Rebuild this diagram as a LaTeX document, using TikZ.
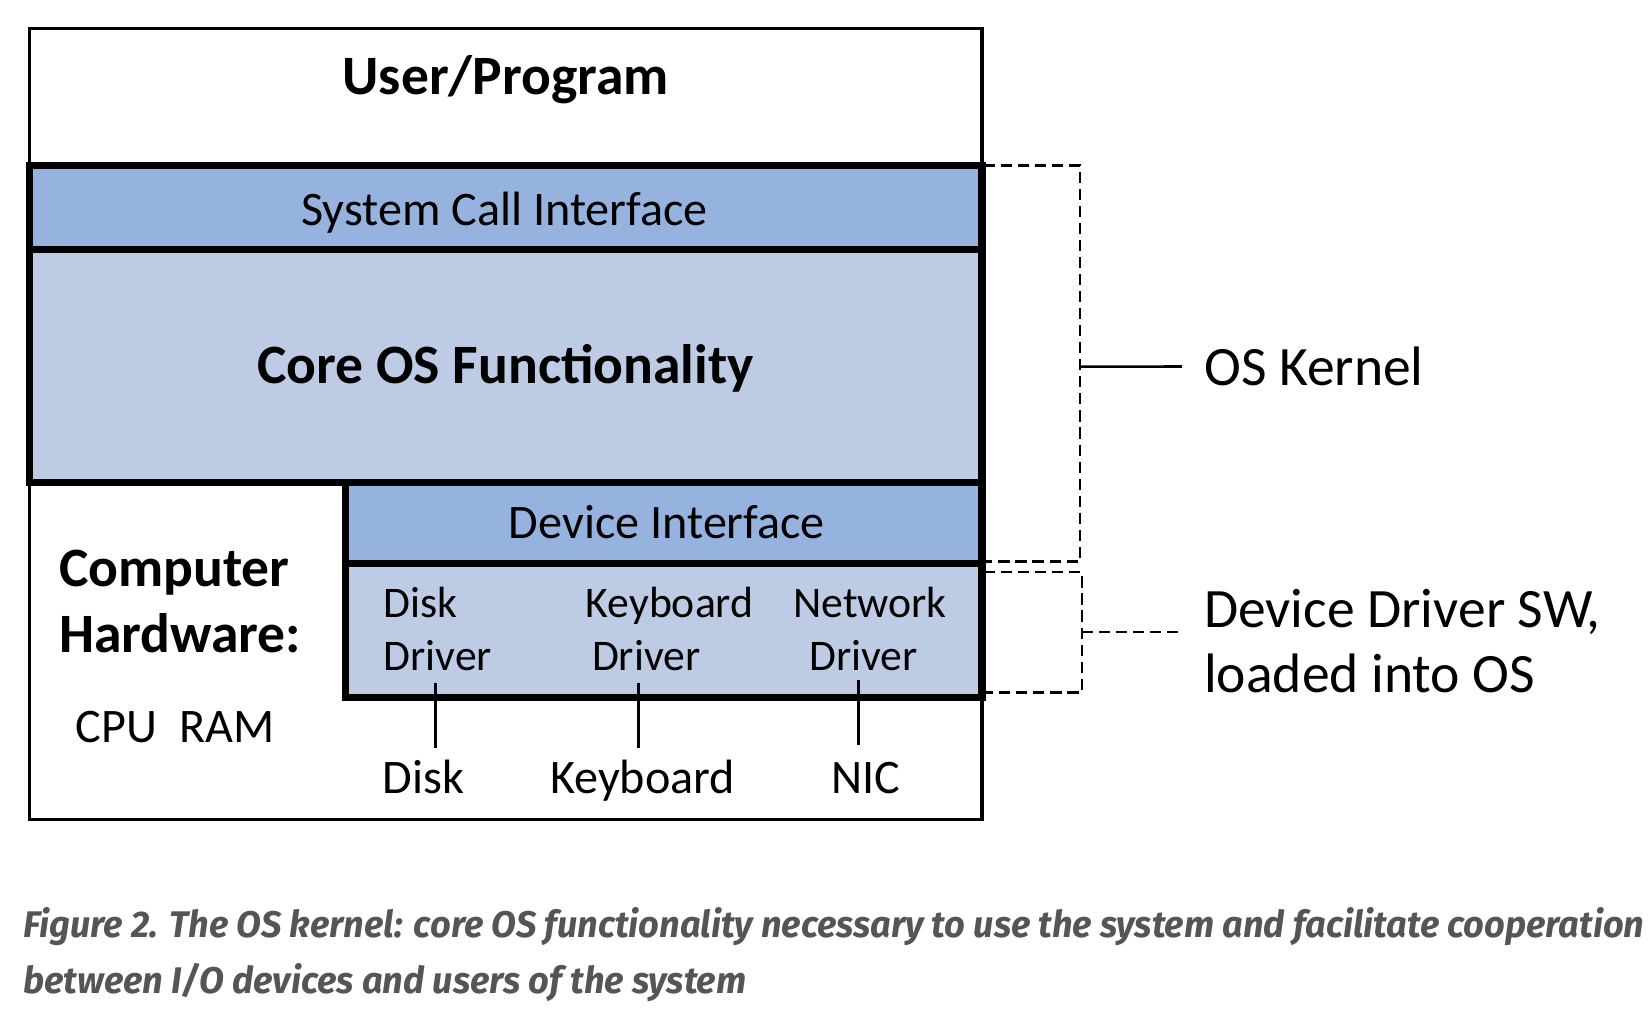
\documentclass[tikz,border=0pt]{standalone}
\usepackage{fontspec}
\usepackage{graphicx}
\setmainfont{Carlito}
\newfontfamily\capfont{Fira Sans}
\definecolor{dblue}{RGB}{149,179,222}
\definecolor{lblue}{RGB}{189,204,228}
\definecolor{capgray}{RGB}{85,85,85}
\begin{document}
\begin{tikzpicture}[x=0.01cm,y=-0.01cm,
  thk/.style={line width=2pt},
  thn/.style={line width=0.9pt},
  dsh/.style={line width=0.7pt,dash pattern=on 3pt off 1.6pt},
  big/.style={font=\fontsize{13}{16}\selectfont},
  bigb/.style={font=\fontsize{15}{18}\selectfont\bfseries},
  mid/.style={font=\fontsize{13}{16}\selectfont},
  sml/.style={font=\fontsize{11.8}{14}\selectfont},
  side/.style={font=\fontsize{15}{18}\selectfont},
  lab/.style={inner sep=0pt,outer sep=0pt}]
\useasboundingbox (0,0) rectangle (1568,959);
% fills
\fill[white] (28,27) rectangle (932,778);
\fill[dblue] (28,157) rectangle (932,237);
\fill[lblue] (28,237) rectangle (932,458);
\fill[dblue] (328,458) rectangle (932,535);
\fill[lblue] (328,535) rectangle (932,662);
% thin outer lines
\draw[thn] (28,157) -- (28,27) -- (932,27) -- (932,157);
\draw[thn] (28,458) -- (28,778) -- (932,778) -- (932,662);
% thick kernel lines
\draw[thk] (28,157) rectangle (932,458);
\draw[thk] (28,237) -- (932,237);
\draw[thk] (328,458) -- (328,662) -- (932,662) -- (932,458);
\draw[thk] (328,535) -- (932,535);
% texts
\node[lab,bigb,anchor=base] (user) at (480,90) {User/Program};
\node[lab,mid,anchor=base] (sci) at (479,214) {System Call Interface};
\node[lab,bigb,anchor=base] (core) at (480,364) {Core OS Functionality};
\node[lab,mid,anchor=base] (dev) at (633,511) {Device Interface};
\node[lab,sml,anchor=base west] (d1a) at (364,586) {Disk};
\node[lab,sml,anchor=base west] (d1b) at (364,636) {Driver};
\node[lab,sml,anchor=base west] (d2a) at (556,586) {Keyboard};
\node[lab,sml,anchor=base west] (d2b) at (562,636) {Driver};
\node[lab,sml,anchor=base west] (d3a) at (753,586) {Network};
\node[lab,sml,anchor=base west] (d3b) at (768,636) {Driver};
\node[lab,big,anchor=base] (hdisk) at (402,753) {Disk};
\node[lab,big,anchor=base] (hkey) at (610,753) {Keyboard};
\node[lab,big,anchor=base] (hnic) at (822,753) {NIC};
\node[lab,bigb,anchor=base west] (comp) at (56,557) {Computer};
\node[lab,bigb,anchor=base west] (hw) at (56,619) {Hardware:};
\node[lab,big,anchor=base west] (cpu) at (72,705) {CPU\ \ RAM};
% driver-to-device connectors
\coordinate (c1a) at (413,648); \coordinate (c1b) at (413,710);
\coordinate (c2a) at (606,648); \coordinate (c2b) at (606,710);
\coordinate (c3a) at (815,645); \coordinate (c3b) at (815,707);
\draw[line width=0.8pt] (c1a) -- (c1b);
\draw[line width=0.8pt] (c2a) -- (c2b);
\draw[line width=0.8pt] (c3a) -- (c3b);
% brackets
\draw[dsh] (934,157) -- (1025,157) -- (1025,533) -- (934,533);
\draw[dsh] (934,543) -- (1027,543) -- (1027,657) -- (934,657);
\node[lab,side,anchor=base west] (kern) at (1143,366) {OS Kernel};
\node[lab,side,anchor=base west] (ddsw) at (1143,596) {Device Driver SW,};
\node[lab,side,anchor=base west] (ddsw2) at (1143,657) {loaded into OS};
\coordinate (bk1) at (1025,348);
\coordinate (bk2) at (1027,600);
\draw[line width=0.7pt] (bk1) -- (kern.west -| 1122,0);
\draw[dsh] (bk2) -- (1123,600);
% caption
\node[lab,anchor=base west,text=capgray] (cap1) at (22,890) {\resizebox{15.38cm}{\height}{\capfont\bfseries\itshape\fontsize{10}{12}\selectfont Figure 2. The OS kernel: core OS functionality necessary to use the system and facilitate cooperation}};
\node[lab,anchor=base west,text=capgray] (cap2) at (22,943) {\resizebox{6.86cm}{\height}{\capfont\bfseries\itshape\fontsize{10}{12}\selectfont between I/O devices and users of the system}};
\end{tikzpicture}
\end{document}
